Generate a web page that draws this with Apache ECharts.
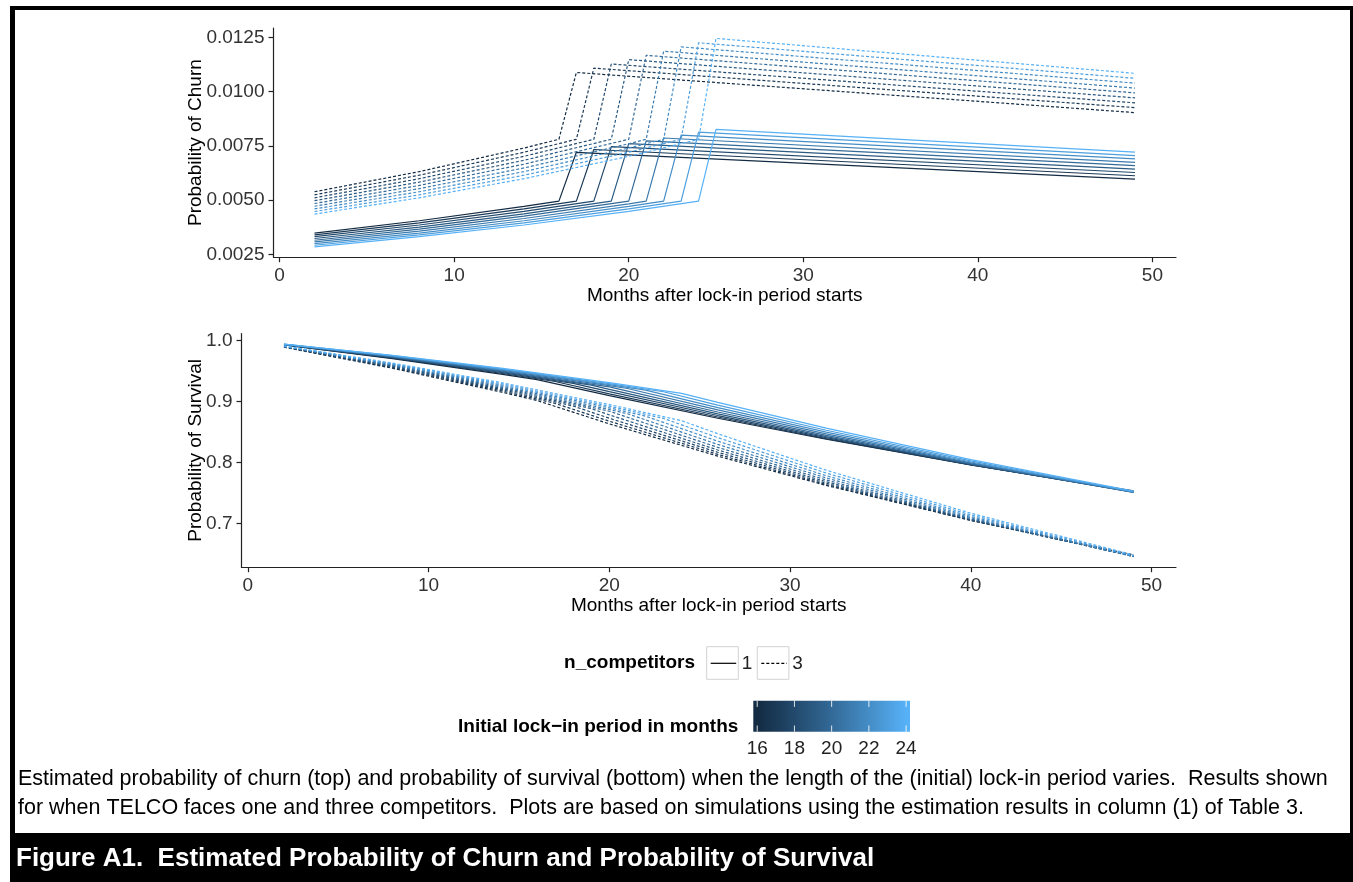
<!DOCTYPE html>
<html>
<head>
<meta charset="utf-8">
<script src="https://cdn.jsdelivr.net/npm/echarts@6/dist/echarts.min.js"></script>
<style>
  html, body { margin: 0; padding: 0; background: #fff; }
  #chart { width: 1353px; height: 882px; }
</style>
</head>
<body>
<div id="chart"></div>
<script>
// Initial lock-in period (months) of each simulated path
const lockIn = [16, 17, 18, 19, 20, 21, 22, 23, 24];

// Monthly churn probability, one competitor: [month, probability] per lock-in length
const churnOne = [
  [[2, 0.003480], [8, 0.004047], [14, 0.004707], [16, 0.00495], [17, 0.00720], [49, 0.00596]],
  [[2, 0.003394], [8, 0.003947], [14, 0.004590], [17, 0.00495], [18, 0.00733], [49, 0.00612]],
  [[2, 0.003310], [8, 0.003849], [14, 0.004476], [18, 0.00495], [19, 0.00746], [49, 0.00627]],
  [[2, 0.003227], [8, 0.003753], [14, 0.004365], [19, 0.00495], [20, 0.00760], [49, 0.00643]],
  [[2, 0.003147], [8, 0.003660], [14, 0.004256], [20, 0.00495], [21, 0.00773], [49, 0.00659]],
  [[2, 0.003069], [8, 0.003569], [14, 0.004151], [20, 0.004827], [21, 0.00495], [22, 0.00786], [49, 0.00674]],
  [[2, 0.002993], [8, 0.003480], [14, 0.004047], [20, 0.004707], [22, 0.00495], [23, 0.00799], [49, 0.00690]],
  [[2, 0.002918], [8, 0.003394], [14, 0.003947], [20, 0.004590], [23, 0.00495], [24, 0.00813], [49, 0.00705]],
  [[2, 0.002846], [8, 0.003310], [14, 0.003849], [20, 0.004476], [24, 0.00495], [25, 0.00826], [49, 0.00721]]
];

// Monthly churn probability, three competitors
const churnThree = [
  [[2, 0.005382], [8, 0.006310], [14, 0.007397], [16, 0.00780], [17, 0.01088], [49, 0.00903]],
  [[2, 0.005242], [8, 0.006145], [14, 0.007204], [17, 0.00780], [18, 0.01108], [49, 0.00926]],
  [[2, 0.005104], [8, 0.005984], [14, 0.007016], [18, 0.00780], [19, 0.01127], [49, 0.00948]],
  [[2, 0.004971], [8, 0.005828], [14, 0.006832], [19, 0.00780], [20, 0.01147], [49, 0.00971]],
  [[2, 0.004841], [8, 0.005675], [14, 0.006653], [20, 0.00780], [21, 0.01167], [49, 0.00994]],
  [[2, 0.004714], [8, 0.005527], [14, 0.006479], [20, 0.007596], [21, 0.00780], [22, 0.01186], [49, 0.01016]],
  [[2, 0.004591], [8, 0.005382], [14, 0.006310], [20, 0.007397], [22, 0.00780], [23, 0.01206], [49, 0.01039]],
  [[2, 0.004471], [8, 0.005242], [14, 0.006145], [20, 0.007204], [23, 0.00780], [24, 0.01225], [49, 0.01061]],
  [[2, 0.004354], [8, 0.005104], [14, 0.005984], [20, 0.007016], [24, 0.00780], [25, 0.01245], [49, 0.01084]]
];

// Probability of survival, one competitor
const survivalOne = [
  [[2, 0.9931], [8, 0.9707], [14, 0.9453], [16, 0.9361], [20, 0.9097], [26, 0.8726], [32, 0.8381], [40, 0.7960], [49, 0.7534]],
  [[2, 0.9933], [8, 0.9715], [14, 0.9466], [17, 0.9330], [20, 0.9128], [26, 0.8747], [32, 0.8393], [40, 0.7961], [49, 0.7524]],
  [[2, 0.9935], [8, 0.9722], [14, 0.9479], [18, 0.9300], [20, 0.9163], [26, 0.8771], [32, 0.8408], [40, 0.7965], [49, 0.7517]],
  [[2, 0.9936], [8, 0.9728], [14, 0.9492], [19, 0.9271], [20, 0.9201], [26, 0.8798], [32, 0.8425], [40, 0.7970], [49, 0.7511]],
  [[2, 0.9938], [8, 0.9735], [14, 0.9504], [20, 0.9242], [26, 0.8829], [32, 0.8446], [40, 0.7980], [49, 0.7509]],
  [[2, 0.9940], [8, 0.9741], [14, 0.9516], [20, 0.9261], [21, 0.9215], [26, 0.8863], [32, 0.8471], [40, 0.7993], [49, 0.7511]],
  [[2, 0.9941], [8, 0.9748], [14, 0.9528], [20, 0.9278], [22, 0.9188], [26, 0.8901], [32, 0.8498], [40, 0.8008], [49, 0.7515]],
  [[2, 0.9943], [8, 0.9754], [14, 0.9539], [20, 0.9296], [23, 0.9162], [26, 0.8942], [32, 0.8529], [40, 0.8026], [49, 0.7521]],
  [[2, 0.9944], [8, 0.9760], [14, 0.9550], [20, 0.9312], [24, 0.9136], [26, 0.8987], [32, 0.8563], [40, 0.8047], [49, 0.7530]]
];

// Probability of survival, three competitors
const survivalThree = [
  [[2, 0.9894], [8, 0.9548], [14, 0.9158], [16, 0.9018], [20, 0.8634], [26, 0.8104], [32, 0.7623], [40, 0.7048], [49, 0.6482]],
  [[2, 0.9897], [8, 0.9560], [14, 0.9179], [17, 0.8971], [20, 0.8678], [26, 0.8133], [32, 0.7638], [40, 0.7048], [49, 0.6469]],
  [[2, 0.9899], [8, 0.9571], [14, 0.9200], [18, 0.8927], [20, 0.8727], [26, 0.8167], [32, 0.7659], [40, 0.7055], [49, 0.6461]],
  [[2, 0.9902], [8, 0.9582], [14, 0.9220], [19, 0.8884], [20, 0.8782], [26, 0.8205], [32, 0.7683], [40, 0.7063], [49, 0.6455]],
  [[2, 0.9905], [8, 0.9593], [14, 0.9239], [20, 0.8842], [26, 0.8248], [32, 0.7712], [40, 0.7075], [49, 0.6453]],
  [[2, 0.9907], [8, 0.9603], [14, 0.9258], [20, 0.8870], [21, 0.8801], [26, 0.8297], [32, 0.7746], [40, 0.7093], [49, 0.6455]],
  [[2, 0.9910], [8, 0.9613], [14, 0.9277], [20, 0.8898], [22, 0.8761], [26, 0.8350], [32, 0.7783], [40, 0.7113], [49, 0.6460]],
  [[2, 0.9912], [8, 0.9623], [14, 0.9295], [20, 0.8925], [23, 0.8723], [26, 0.8408], [32, 0.7826], [40, 0.7138], [49, 0.6470]],
  [[2, 0.9914], [8, 0.9633], [14, 0.9313], [20, 0.8951], [24, 0.8686], [26, 0.8472], [32, 0.7872], [40, 0.7166], [49, 0.6481]]
];

// Axis ticks and legend labels
const monthTicks = [0, 10, 20, 30, 40, 50];
const churnTicks = [0.0025, 0.0050, 0.0075, 0.0100, 0.0125];
const survivalTicks = [0.7, 0.8, 0.9, 1.0];
const colorbarTicks = [16, 18, 20, 22, 24];
const competitorLabels = ['1', '3'];

const captionLines = [
  'Estimated probability of churn (top) and probability of survival (bottom) when the length of the (initial) lock-in period varies.  Results shown',
  'for when TELCO faces one and three competitors.  Plots are based on simulations using the estimation results in column (1) of Table 3.'
];
const figureTitle = 'Figure A1.  Estimated Probability of Churn and Probability of Survival';

// ---- colour scale (dark navy to light blue, interpolated in CIE Lab) ----
const LOW = '#132B43', HIGH = '#56B1F7';
function toLab(hex) {
  const c = [1, 3, 5].map(i => parseInt(hex.substr(i, 2), 16) / 255)
    .map(v => v <= 0.04045 ? v / 12.92 : Math.pow((v + 0.055) / 1.055, 2.4));
  const X = (0.4124564 * c[0] + 0.3575761 * c[1] + 0.1804375 * c[2]) / 0.95047;
  const Y = (0.2126729 * c[0] + 0.7151522 * c[1] + 0.0721750 * c[2]);
  const Z = (0.0193339 * c[0] + 0.1191920 * c[1] + 0.9503041 * c[2]) / 1.08883;
  const f = t => t > 0.008856 ? Math.cbrt(t) : 7.787 * t + 16 / 116;
  const fx = f(X), fy = f(Y), fz = f(Z);
  return [116 * fy - 16, 500 * (fx - fy), 200 * (fy - fz)];
}
function fromLab(lab) {
  const fy = (lab[0] + 16) / 116, fx = fy + lab[1] / 500, fz = fy - lab[2] / 200;
  const inv = t => t * t * t > 0.008856 ? t * t * t : (t - 16 / 116) / 7.787;
  const X = inv(fx) * 0.95047, Y = inv(fy), Z = inv(fz) * 1.08883;
  const r = 3.2404542 * X - 1.5371385 * Y - 0.4985314 * Z;
  const g = -0.9692660 * X + 1.8760108 * Y + 0.0415560 * Z;
  const b = 0.0556434 * X - 0.2040259 * Y + 1.0572252 * Z;
  const gam = v => {
    v = v <= 0.0031308 ? 12.92 * v : 1.055 * Math.pow(v, 1 / 2.4) - 0.055;
    return Math.round(Math.max(0, Math.min(1, v)) * 255);
  };
  return 'rgb(' + gam(r) + ',' + gam(g) + ',' + gam(b) + ')';
}
const labLow = toLab(LOW), labHigh = toLab(HIGH);
function shadeAt(f) { return fromLab(labLow.map((v, i) => v + (labHigh[i] - v) * f)); }
const lockMin = lockIn[0], lockMax = lockIn[lockIn.length - 1];
function lockColor(months) { return shadeAt((months - lockMin) / (lockMax - lockMin)); }

// ---- common styles ----
const FONT = '"Liberation Sans", Arial, Helvetica, sans-serif';
const AXIS_COLOR = '#222';
const LINE_W = 1.2;
const DOTTED = [3, 2];

function xAxisFor(gridIndex) {
  return {
    type: 'value', gridIndex: gridIndex, min: -0.35, max: 51.35,
    name: 'Months after lock-in period starts', nameLocation: 'middle', nameGap: 25,
    nameTextStyle: { fontFamily: FONT, fontSize: 19, color: '#000' },
    axisLine: { show: true, onZero: false, lineStyle: { color: AXIS_COLOR, width: 1.2 } },
    axisTick: { show: true, length: 5, customValues: monthTicks, lineStyle: { color: AXIS_COLOR, width: 1.2 } },
    axisLabel: { customValues: monthTicks, margin: 9, fontFamily: FONT, fontSize: 19, color: '#333',
      formatter: v => String(v) },
    splitLine: { show: false }
  };
}
function yAxisFor(gridIndex, cfg) {
  return {
    type: 'value', gridIndex: gridIndex, min: cfg.min, max: cfg.max,
    name: cfg.name, nameLocation: 'middle', nameGap: cfg.nameGap, nameRotate: 90,
    nameMoveOverlap: false,
    nameTextStyle: { fontFamily: FONT, fontSize: 19, color: '#000' },
    axisLine: { show: true, onZero: false, lineStyle: { color: AXIS_COLOR, width: 1.2 } },
    axisTick: { show: true, length: 5, customValues: cfg.ticks, lineStyle: { color: AXIS_COLOR, width: 1.2 } },
    axisLabel: { customValues: cfg.ticks, margin: 9, fontFamily: FONT, fontSize: 19, color: '#333',
      formatter: v => v.toFixed(cfg.digits) },
    splitLine: { show: false }
  };
}

// ---- series: one line per lock-in length and competitor count ----
const series = [];
function addGroup(lines, axisIndex, dashed) {
  lines.forEach((pts, i) => {
    series.push({
      type: 'line', name: lockIn[i] + (dashed ? ' / 3' : ' / 1'),
      xAxisIndex: axisIndex, yAxisIndex: axisIndex,
      data: pts, symbol: 'none', showSymbol: false, silent: true, animation: false,
      lineStyle: { color: lockColor(lockIn[i]), width: LINE_W, type: dashed ? DOTTED : 'solid' }
    });
  });
}
addGroup(churnOne, 0, false);
addGroup(churnThree, 0, true);
addGroup(survivalOne, 1, false);
addGroup(survivalThree, 1, true);

// ---- legends, caption and frame ----
const graphic = [];
function txt(x, y, text, opts) {
  graphic.push({
    type: 'text', x: x, y: y, silent: true,
    style: Object.assign({
      text: text, fill: '#000', font: '19px ' + FONT,
      textAlign: 'left', align: 'left', textVerticalAlign: 'middle', verticalAlign: 'middle'
    }, opts || {})
  });
}
function rect(x, y, w, h, style) {
  graphic.push({ type: 'rect', silent: true, shape: { x: x, y: y, width: w, height: h }, style: style });
}
function seg(x1, y1, x2, y2, style) {
  graphic.push({ type: 'line', silent: true, shape: { x1: x1, y1: y1, x2: x2, y2: y2 }, style: style });
}

// frame
rect(10, 6, 1343, 4, { fill: '#000' });
rect(10, 6, 5, 876, { fill: '#000' });
rect(1350, 6, 3, 830, { fill: '#000' });
rect(10, 833, 1343, 49, { fill: '#000' });

// linetype legend
txt(695, 663, 'n_competitors', { font: 'bold 19px ' + FONT, textAlign: 'right', align: 'right' });
const keyBoxes = [706.7, 757.3];
keyBoxes.forEach((bx, i) => {
  rect(bx, 646.7, 31.6, 32.6, { fill: '#fff', stroke: '#d2d2d2', lineWidth: 1 });
  seg(bx + 4, 663.3, bx + 29.5, 663.3, { stroke: '#000', lineWidth: LINE_W, lineDash: i === 0 ? null : DOTTED });
  txt(bx + 35, 663.5, competitorLabels[i], { font: '19px ' + FONT, fill: '#222' });
});

// colour bar legend
txt(738.3, 726.5, 'Initial lock\u2212in period in months', { font: 'bold 19px ' + FONT, textAlign: 'right', align: 'right' });
const barX = 753.3, barY = 700.7, barW = 156.7, barH = 31, barInset = 3.9;
const stops = [{ offset: 0, color: shadeAt(0) }];
for (let k = 0; k <= 10; k++) {
  stops.push({ offset: (barInset + (barW - 2 * barInset) * k / 10) / barW, color: shadeAt(k / 10) });
}
stops.push({ offset: 1, color: shadeAt(1) });
rect(barX, barY, barW, barH, {
  fill: new echarts.graphic.LinearGradient(0, 0, 1, 0, stops)
});
colorbarTicks.forEach(v => {
  const x = barX + barInset + (barW - 2 * barInset) * (v - lockMin) / (lockMax - lockMin);
  seg(x, barY, x, barY + barH / 5, { stroke: 'rgba(255,255,255,0.85)', lineWidth: 1 });
  seg(x, barY + barH * 4 / 5, x, barY + barH, { stroke: 'rgba(255,255,255,0.85)', lineWidth: 1 });
  txt(x, 748.3, String(v), { font: '19px ' + FONT, fill: '#222', textAlign: 'center', align: 'center' });
});

// caption and figure title
txt(18, 779, captionLines[0], { font: '21.5px ' + FONT, fill: '#000' });
txt(18, 808, captionLines[1], { font: '21.5px ' + FONT, fill: '#000' });
txt(16, 859, figureTitle, { font: 'bold 26px ' + FONT, fill: '#fff' });

const chart = echarts.init(document.getElementById('chart'), null, { renderer: 'canvas' });
chart.setOption({
  backgroundColor: '#fff',
  animation: false,
  grid: [
    { left: 273.5, top: 28, width: 902.5, height: 229.2, containLabel: false, outerBoundsMode: 'none' },
    { left: 241.5, top: 333.5, width: 934.5, height: 233.7, containLabel: false, outerBoundsMode: 'none' }
  ],
  xAxis: [xAxisFor(0), xAxisFor(1)],
  yAxis: [
    yAxisFor(0, { min: 0.002366, max: 0.01293, ticks: churnTicks, digits: 4, name: 'Probability of Churn', nameGap: 68 }),
    yAxisFor(1, { min: 0.6279, max: 1.0119, ticks: survivalTicks, digits: 1, name: 'Probability of Survival', nameGap: 36 })
  ],
  series: series,
  graphic: graphic
});
</script>
</body>
</html>
